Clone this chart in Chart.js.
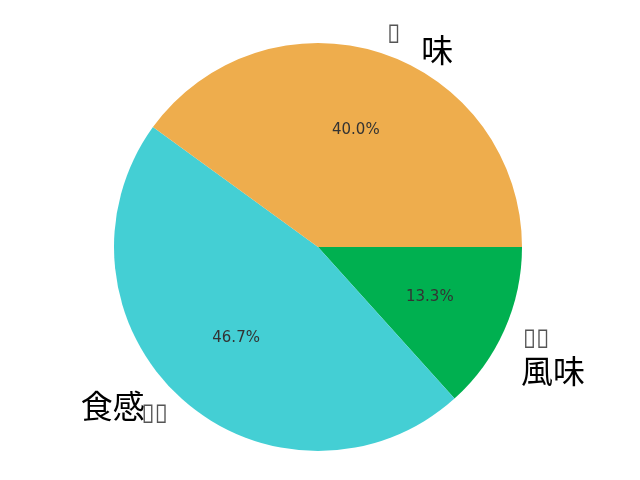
<!DOCTYPE html>
<html>
<head>
<meta charset="utf-8">
<script src="https://cdn.jsdelivr.net/npm/chart.js@4"></script>
<style>
  html, body { margin: 0; padding: 0; background: #fff; }
  #wrap { width: 640px; height: 480px; }
</style>
</head>
<body>
<div id="wrap"><canvas id="pie"></canvas></div>
<script>
// Slices in drawing order (clockwise from 3 o'clock)
const categories = ['風味', '食感', '味'];
const counts = [2, 7, 6];
const sliceColors = ['#00B050', '#44CFD4', '#EEAD4D'];
// labels as they show up on the picture (missing glyph boxes)
const boxLabels = ['▯▯', '▯▯', '▯'];

const total = counts.reduce((a, b) => a + b, 0);

// Big black names written next to each slice
const bigLabels = [
    { text: '風味', dx: 30, dy: 33 },
    { text: '食感', dx: -55, dy: -8 },
    { text: '味', dx: 50, dy: 16 }
];

const labelPlugin = {
    id: 'pieLabels',
    afterDatasetsDraw(chart) {
        const ctx = chart.ctx;
        const meta = chart.getDatasetMeta(0);
        ctx.save();
        meta.data.forEach((arc, i) => {
            const mid = (arc.startAngle + arc.endAngle) / 2;
            const r = arc.outerRadius;
            const cx = arc.x, cy = arc.y;

            // percentage inside
            ctx.fillStyle = '#333';
            ctx.font = '15px "DejaVu Sans"';
            ctx.textAlign = 'center';
            ctx.textBaseline = 'middle';
            const pct = (counts[i] / total * 100).toFixed(1) + '%';
            ctx.fillText(pct, cx + Math.cos(mid) * r * 0.6, cy + Math.sin(mid) * r * 0.6);

            // outer label
            const lx = cx + Math.cos(mid) * r * 1.1;
            const ly = cy + Math.sin(mid) * r * 1.1;
            ctx.fillStyle = '#555';
            ctx.font = '24px "DejaVu Sans"';
            ctx.textAlign = Math.cos(mid) >= 0 ? 'left' : 'right';
            ctx.fillText(boxLabels[i], lx, ly);

            // big handwritten-style name
            const b = bigLabels[i];
            ctx.fillStyle = '#000';
            ctx.font = '32px "Noto Sans CJK JP"';
            ctx.textAlign = 'center';
            ctx.fillText(b.text, lx + b.dx, ly + b.dy);
        });
        ctx.restore();
    }
};

new Chart(document.getElementById('pie'), {
    type: 'pie',
    data: {
        labels: categories,
        datasets: [{
            data: counts,
            backgroundColor: sliceColors,
            borderWidth: 0
        }]
    },
    options: {
        responsive: true,
        maintainAspectRatio: false,
        animation: false,
        rotation: 90,
        layout: { padding: { top: 43, bottom: 29, left: 0, right: 4 } },
        plugins: {
            legend: { display: false },
            tooltip: { enabled: false }
        }
    },
    plugins: [labelPlugin]
});
</script>
</body>
</html>
